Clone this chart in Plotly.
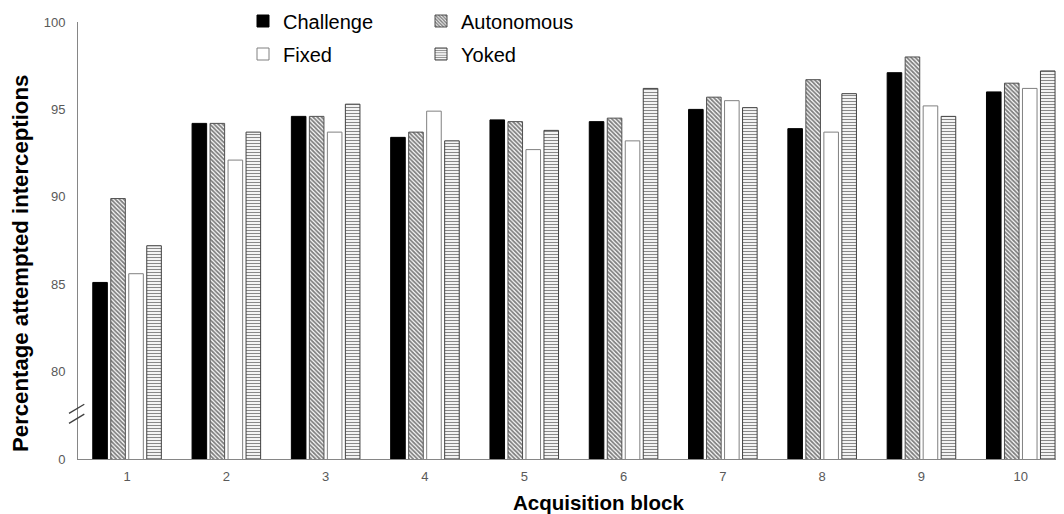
import plotly.graph_objects as go

blocks = ["1", "2", "3", "4", "5", "6", "7", "8", "9", "10"]
challenge = [85.1, 94.2, 94.6, 93.4, 94.4, 94.3, 95.0, 93.9, 97.1, 96.0]
autonomous = [89.9, 94.2, 94.6, 93.7, 94.3, 94.5, 95.7, 96.7, 98.0, 96.5]
fixed = [85.6, 92.1, 93.7, 94.9, 92.7, 93.2, 95.5, 93.7, 95.2, 96.2]
yoked = [87.2, 93.7, 95.3, 93.2, 93.8, 96.2, 95.1, 95.9, 94.6, 97.2]

y_tickvals = [75, 80, 85, 90, 95, 100]
y_ticktext = ["0", "80", "85", "90", "95", "100"]

FONT = "Liberation Sans, Arial, sans-serif"
OFF = 8  # page body margin offset
W, H = 1064 - OFF, 514 - OFF
ML, MR, MT, MB = 78 - OFF, 0, 22 - OFF, 55
xpos = list(range(len(blocks)))
plot_w = W - ML - MR
plot_h = H - MT - MB
bottom = H - MB

fig = go.Figure()
fig.add_trace(go.Bar(name="Challenge", x=xpos, y=challenge, legend="legend",
                     marker=dict(color="black", line=dict(color="black", width=1))))
fig.add_trace(go.Bar(name="Autonomous", x=xpos, y=autonomous, legend="legend",
                     marker=dict(color="white", line=dict(color="#505050", width=1),
                                 pattern=dict(shape="\\", fgcolor="#000000", bgcolor="#ffffff",
                                              size=3, solidity=0.6))))
fig.add_trace(go.Bar(name="Fixed", x=xpos, y=fixed, legend="legend2",
                     marker=dict(color="white", line=dict(color="#808080", width=1))))
fig.add_trace(go.Bar(name="Yoked", x=xpos, y=yoked, legend="legend2",
                     marker=dict(color="white", line=dict(color="#404040", width=1),
                                 pattern=dict(shape="-", fgcolor="#111111", bgcolor="#ffffff",
                                              size=3, solidity=0.4))))

leg_common = dict(orientation="h", xref="container", yref="container",
                  x=(243 - OFF) / W, xanchor="left", yanchor="middle",
                  font=dict(family=FONT, size=20, color="black"),
                  entrywidth=133, entrywidthmode="pixels",
                  bgcolor="rgba(0,0,0,0)", traceorder="normal")

# axis break marks (decoration)
brk_x0, brk_x1 = (69 - OFF - ML) / plot_w, (84.3 - OFF - ML) / plot_w
breaks = [(77.61, 78.13), (77.04, 77.57)]
shapes = [dict(type="line", xref="paper", yref="y", x0=brk_x0, x1=brk_x1, y0=a, y1=b,
               line=dict(color="#404040", width=1.3)) for a, b in breaks]

fig.update_layout(
    width=W, height=H,
    margin=dict(l=ML, r=MR, t=MT, b=MB, autoexpand=False),
    paper_bgcolor="white", plot_bgcolor="white",
    barmode="group", bargap=0.275, bargroupgap=0.19,
    font=dict(family=FONT, color="#595959"),
    legend=dict(**leg_common, y=1 - (21 - OFF) / H),
    legend2=dict(**leg_common, y=1 - (54 - OFF) / H),
    xaxis=dict(range=[-0.494, -0.494 + plot_w / 99.3], tickmode="array", tickvals=xpos,
               ticktext=blocks, showgrid=False, zeroline=False, showline=True,
               linecolor="#868686", linewidth=1, ticks="", automargin=False,
               tickfont=dict(size=13, color="#595959"), ticklabelstandoff=5),
    yaxis=dict(range=[75, 100], tickmode="array", tickvals=y_tickvals, ticktext=y_ticktext,
               showgrid=False, zeroline=False, showline=True, linecolor="#868686",
               linewidth=1, ticks="", tickfont=dict(size=13, color="#595959"),
               ticklabelstandoff=9, automargin=False),
    shapes=shapes,
    annotations=[
        dict(text="<b>Percentage attempted interceptions</b>", textangle=-90,
             xref="paper", yref="paper", x=(20 - OFF - ML) / plot_w,
             y=(bottom - (264 - OFF)) / plot_h,
             xanchor="center", yanchor="middle", showarrow=False,
             font=dict(family=FONT, size=22.2, color="black")),
        dict(text="<b>Acquisition block</b>",
             xref="paper", yref="paper", x=(598 - OFF - ML) / plot_w,
             y=(bottom - (502.7 - OFF)) / plot_h,
             xanchor="center", yanchor="middle", showarrow=False,
             font=dict(family=FONT, size=20.5, color="black")),
    ],
    showlegend=True,
)

fig.write_html("out.html")
